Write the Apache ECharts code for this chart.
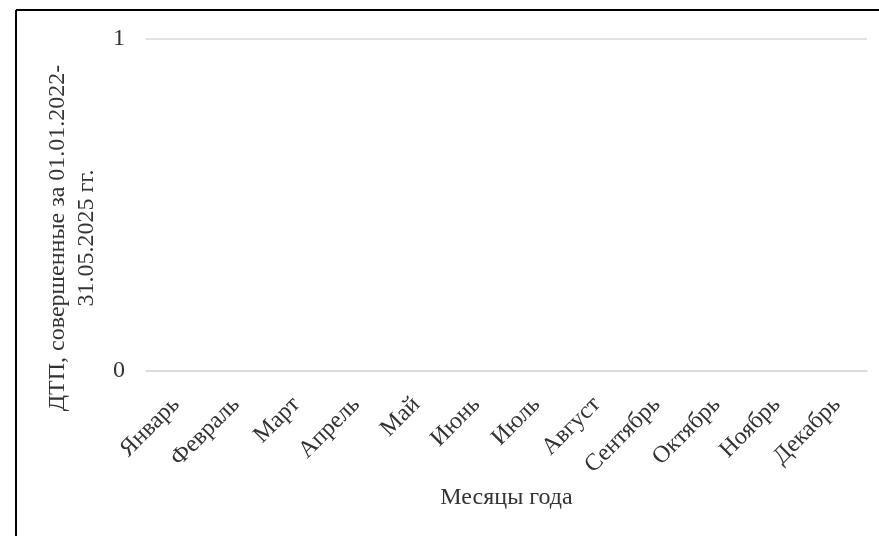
<!DOCTYPE html>
<html>
<head>
<meta charset="utf-8">
<script src="https://cdn.jsdelivr.net/npm/echarts@6/dist/echarts.min.js"></script>
<style>
html, body { margin: 0; padding: 0; background: #fff; }
#chart { width: 879px; height: 536px; }
</style>
</head>
<body>
<div id="chart"></div>
<script>
// месяцы и число ДТП (на графике значений нет — все нули)
const months = ['Январь', 'Февраль', 'Март', 'Апрель', 'Май', 'Июнь',
  'Июль', 'Август', 'Сентябрь', 'Октябрь', 'Ноябрь', 'Декабрь'];
const accidents = [0, 0, 0, 0, 0, 0, 0, 0, 0, 0, 0, 0];
const yTicks = [0, 1];

const font = '"Liberation Serif", "Times New Roman", serif';
const textColor = '#333333';

let myChart = echarts.init(document.getElementById('chart'));
myChart.setOption({
  animation: false,
  grid: { left: 146, right: 12, top: 39, bottom: 165, outerBoundsMode: 'none' },
  graphic: [
    // рамка слева и сверху
    { type: 'line', shape: { x1: 16, y1: 10, x2: 16, y2: 536 }, style: { stroke: '#000', lineWidth: 2 } },
    { type: 'line', shape: { x1: 16, y1: 10, x2: 879, y2: 10 }, style: { stroke: '#000', lineWidth: 2 } }
  ],
  xAxis: {
    type: 'category',
    data: months,
    name: 'Месяцы года',
    nameLocation: 'middle',
    nameGap: 115,
    nameTextStyle: { fontFamily: font, fontSize: 24, color: textColor },
    axisLine: { show: true, lineStyle: { color: '#d9d9d9', width: 1.5 } },
    axisTick: { show: false },
    axisLabel: {
      interval: 0,
      rotate: 45,
      margin: 30,
      fontFamily: font,
      fontSize: 24,
      color: textColor
    }
  },
  yAxis: {
    type: 'value',
    min: yTicks[0],
    max: yTicks[yTicks.length - 1],
    interval: 1,
    name: 'ДТП, совершенные за 01.01.2022-\n31.05.2025 гг.',
    nameLocation: 'middle',
    nameGap: 45,
    nameTextStyle: {
      fontFamily: font,
      fontSize: 24,
      lineHeight: 29,
      color: textColor,
      align: 'center',
      padding: [0, 66, 0, 0]
    },
    axisLine: { show: false },
    axisTick: { show: false },
    axisLabel: { margin: 21, fontFamily: font, fontSize: 24, color: textColor },
    splitLine: { lineStyle: { color: '#d9d9d9', width: 1.5 } }
  },
  series: [{
    type: 'bar',
    data: accidents,
    itemStyle: { color: '#4472c4' }
  }]
});
</script>
</body>
</html>
